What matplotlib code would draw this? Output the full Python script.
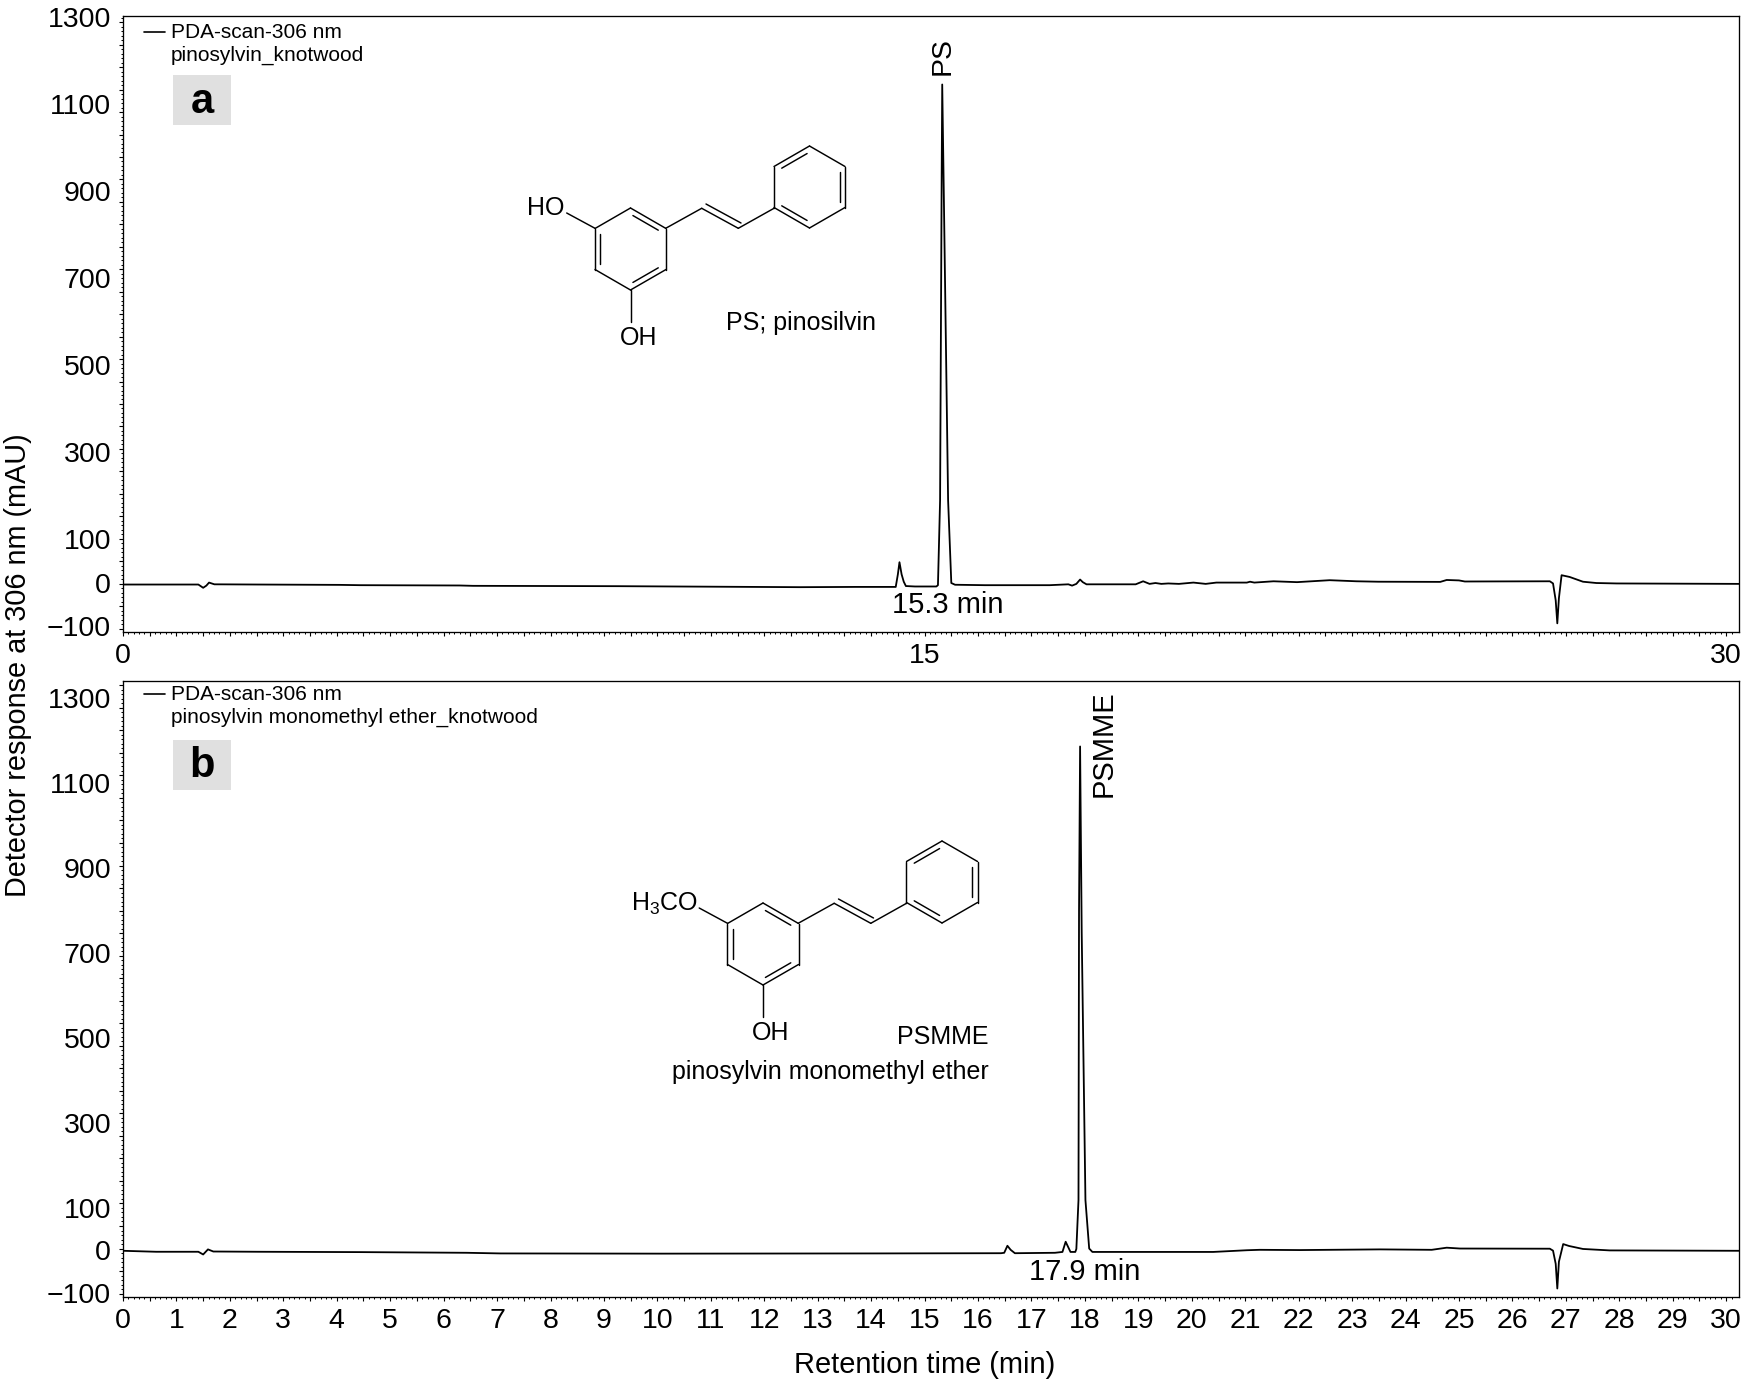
import matplotlib
matplotlib.use('Agg')
import matplotlib.pyplot as plt
from matplotlib.lines import Line2D
from matplotlib.patches import Rectangle
import numpy as np

plt.rcParams['font.family'] = ['Liberation Sans', 'DejaVu Sans']
plt.rcParams['mathtext.default'] = 'regular'

W, H = 1747, 1383

# chromatogram a
time_a = [0, 0.6, 1.41, 1.5, 1.56, 1.61, 1.71, 2.52, 4.06, 4.44, 6.3, 6.55, 9.27, 12.67, 13.71, 14.41, 14.46,
          14.5, 14.53, 14.57, 14.61, 14.65, 14.82, 15.22, 15.25, 15.29, 15.32, 15.33, 15.36, 15.44, 15.5,
          15.57, 16.13, 17.34, 17.69, 17.76, 17.84, 17.91, 17.96, 18.03, 18.95, 19.09, 19.21, 19.32, 19.43,
          19.56, 19.76, 20.03, 20.26, 20.46, 21.03, 21.09, 21.17, 21.53, 21.97, 22.58, 23.08, 23.49, 24.65, 24.77,
          25.0, 25.11, 26.7, 26.76, 26.81, 26.84, 26.87, 26.92, 27.07, 27.32, 27.57, 27.95, 30.24]
signal_a = [1.5, 1.5, 1.5, -6, -1, 6, 2, 1.5, 0.7, 0, -0.7, -1.5, -2.3, -4.6, -4, -4, -4,
            25, 53, 25, 8, -2, -3, -3, 0, 196, 950, 1155, 900, 196, 5,
            1, 0, 0, 2, -1, 3, 13, 7, 2, 2, 9, 3, 5, 3,
            4, 3, 6, 3, 6, 6, 8, 6, 9, 7, 11.5, 9, 8, 7.6, 12,
            11, 8.5, 9, 4, -35, -88, -30, 23, 19, 8, 5, 4, 3]

# chromatogram b
time_b = [0, 0.62, 1.41, 1.5, 1.59, 1.69, 2.52, 4.44, 6.43, 7.06, 10.08, 14.11, 16.43, 16.49, 16.55, 16.61, 16.69, 17.44,
          17.58, 17.64, 17.73, 17.82, 17.84, 17.88, 17.89, 17.91, 17.94, 18.01, 18.08, 18.14, 18.45, 19.03, 20.4,
          21.03, 21.27, 22.02, 23.52, 24.49, 24.77, 25.02, 26.7, 26.76, 26.81, 26.84, 26.87, 26.95, 27.06, 27.32,
          27.82, 30.24]
signal_b = [0.7, -1.6, -1.6, -8, 4, -1, -1.6, -2.4, -4, -5.5, -6, -5.5, -5, -4, 12.5, 3, -5, -4,
            -2, 22, -2, -2, 5, 120, 800, 1187, 750, 120, 6, -2, -2, -2, -2,
            2, 3, 2.4, 4, 3, 8, 6, 5.6, 1, -30, -88, -25, 16.5, 12, 5,
            1.6, 0.7]

ylabels = [1300, 1100, 900, 700, 500, 300, 100, 0, -100]
ytick_step = [51.8, 53.0]
ylims = [(-108, 1313), (-108, 1341)]
xlim_max = 30.24
xmajor_a = [0, 15, 30]
xmajor_b = list(range(0, 31))


def px(x, y):
    return x / W, 1 - y / H


def label(x, y, s, size=18, **kw):
    kw.setdefault('ha', 'center')
    kw.setdefault('va', 'center')
    fig.text(*px(x, y), s, fontsize=size, color='black', **kw)


def seg(x0, y0, x1, y1, lw=1.05):
    xa, ya = px(x0, y0)
    xb, yb = px(x1, y1)
    fig.add_artist(Line2D([xa, xb], [ya, yb], color='black', lw=lw, solid_capstyle='round'))


def ring(cx, cy, inner):
    r = 41
    pt = lambda a, f=1.0: (cx + f * r * np.cos(np.radians(a)), cy - f * r * np.sin(np.radians(a)))
    for a in range(30, 390, 60):
        seg(*pt(a), *pt(a + 60))
    for a, b in inner:
        p0, p1 = np.array(pt(a, 0.85)), np.array(pt(b, 0.85))
        d = (p1 - p0) * 0.08
        seg(*(p0 + d), *(p1 - d))


def molecule(dx, dy):
    ring(630.5 + dx, 249 + dy, [(90, 30), (150, 210), (270, 330)])
    ring(809.5 + dx, 187 + dy, [(150, 90), (30, -30), (210, 270)])
    seg(665.7 + dx, 228.3 + dy, 701.7 + dx, 208.3 + dy)
    seg(701.7 + dx, 208.3 + dy, 738.3 + dx, 228.3 + dy)
    seg(738.3 + dx, 228.3 + dy, 774 + dx, 208.3 + dy)
    seg(706 + dx, 204 + dy, 741 + dx, 223 + dy)
    seg(595 + dx, 228.3 + dy, 566.7 + dx, 213 + dy)
    seg(630.7 + dx, 290 + dy, 630.7 + dx, 321.7 + dy)


fig = plt.figure(figsize=(W / 100, H / 100), dpi=100, facecolor='white')

boxes = [(16, 632), (681, 1297)]
axes = []
for i, (top, bottom) in enumerate(boxes):
    ax = fig.add_axes([123 / W, 1 - bottom / H, (1739 - 123) / W, (bottom - top) / H])
    ax.set_xlim(0, xlim_max)
    ax.set_ylim(*ylims[i])
    for s in ax.spines.values():
        s.set_linewidth(0.95)

    xt = np.arange(0, 30.5, 0.5)
    shown = xmajor_a if i == 0 else xmajor_b
    ax.set_xticks(xt)
    ax.set_xticklabels([str(int(v)) if v in shown else '' for v in xt])
    ax.set_xticks(np.arange(0, 30.2, 0.1), minor=True)
    ax.tick_params(axis='x', which='major', length=2.6, width=0.8, labelsize=20.5, pad=5.5)
    ax.tick_params(axis='x', which='minor', length=1.2, width=0.7)

    # printed y labels sit a little off the tick marks in the original
    nudge = [5 + (v + 100) * 5 / 1400 if i == 0 else 2 for v in ylabels]
    ax.set_yticks([v + n for v, n in zip(ylabels, nudge)])
    ax.set_yticklabels([str(v).replace('-', '\u2212') for v in ylabels])
    ax.tick_params(axis='y', which='major', length=0, labelsize=20.5, pad=8.5)
    step = ytick_step[i]
    ax.set_yticks(np.arange(-100, ylims[i][1], step / 5), minor=True)
    ax.tick_params(axis='y', which='minor', length=1.2, width=0.7)
    sec = ax.secondary_yaxis('left')
    sec.set_yticks(np.arange(-100, ylims[i][1], step))
    sec.set_yticklabels([])
    sec.tick_params(length=2.8, width=0.8)
    sec.spines['left'].set_visible(False)
    axes.append(ax)

axes[0].plot(time_a, signal_a, color='black', lw=1.3, solid_joinstyle='round')
axes[1].plot(time_b, signal_b, color='black', lw=1.3, solid_joinstyle='round')

# legends and panel letters
for y0, name, let, by, ly in [(32, 'pinosylvin_knotwood', 'a', 75, 102), (694, 'pinosylvin monomethyl ether_knotwood', 'b', 740, 766)]:
    seg(144, y0, 165, y0, lw=1.2)
    label(171, y0, 'PDA-scan-306 nm', size=15.0, ha='left')
    label(171, y0 + 23, name, size=15.0, ha='left')
    x, y = px(173, by + 50)
    fig.add_artist(Rectangle((x, y), 58 / W, 50 / H, transform=fig.transFigure, facecolor='#e0e0e0', edgecolor='none'))
    label(202, ly, let, size=30, fontweight='bold')

# peak labels
label(943, 56, 'PS', size=20.4, rotation=90)
label(948, 605, '15.3 min', size=21)
label(1104, 744, 'PSMME', size=21, rotation=90)
label(1085, 1272, '17.9 min', size=21)

# structures
molecule(0, 0)
molecule(132.5, 695)
label(546, 208, 'HO')
label(639, 338, 'OH')
label(801, 323, 'PS; pinosilvin')
label(771, 1033, 'OH')
label(665, 904, 'H$_3$CO')
label(989, 1037, 'PSMME', ha='right')
label(989, 1072, 'pinosylvin monomethyl ether', ha='right')

label(18, 665, 'Detector response at 306 nm (mAU)', size=20.8, rotation=90)
label(925, 1365, 'Retention time (min)', size=20.9)

fig.savefig('out.png', dpi=100, facecolor='white')
